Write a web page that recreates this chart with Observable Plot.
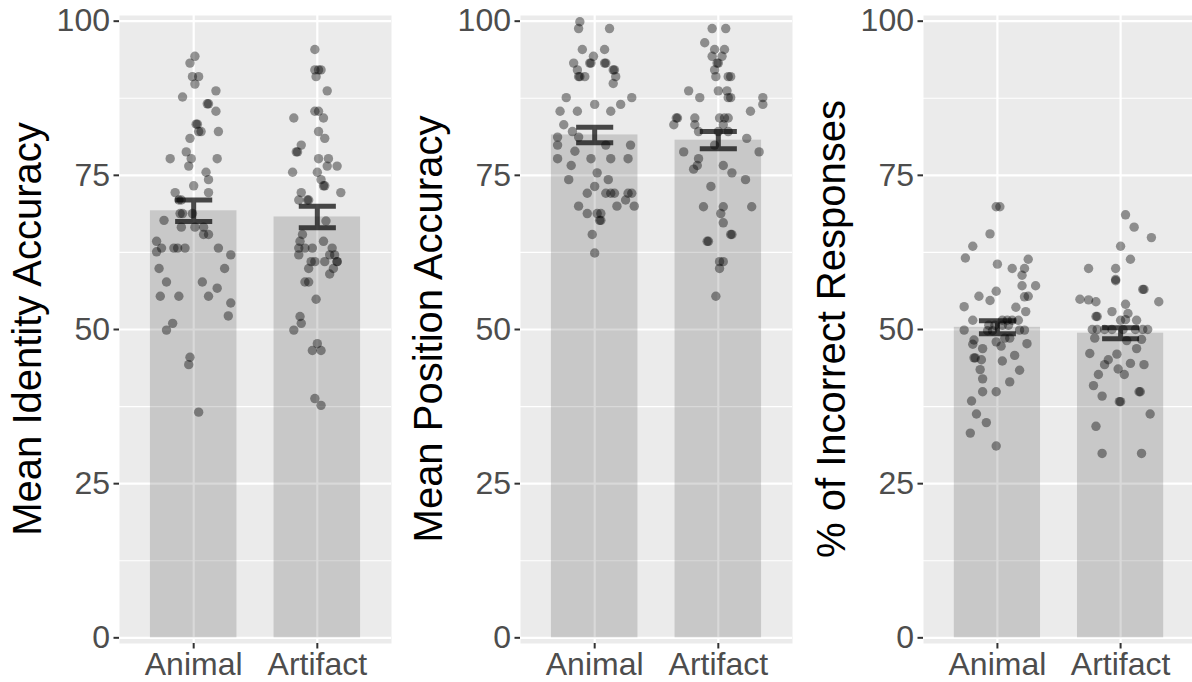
<!DOCTYPE html>
<html><head><meta charset="utf-8">
<script src="https://cdn.jsdelivr.net/npm/d3@7"></script>
<script src="https://cdn.jsdelivr.net/npm/@observablehq/plot@0.6"></script>
<style>
html,body{margin:0;padding:0;background:#fff;}
#chart{position:relative;width:1192px;height:682px;overflow:hidden;}
#chart svg{position:absolute;top:0;}
</style></head><body><div id="chart"></div>
<script>
const categories = ["Animal", "Artifact"];
const yTitles = ["Mean Identity Accuracy", "Mean Position Accuracy", "% of Incorrect Responses"];
const yTicks = [0, 25, 50, 75, 100];
const yMinor = [12.5, 37.5, 62.5, 87.5];

// bar heights (means) and standard errors
const identityMean = [69.25, 68.25];
const identitySE = [1.75, 1.75];
const positionMean = [81.55, 80.7];
const positionSE = [1.25, 1.4];
const incorrectMean = [50.35, 49.4];
const incorrectSE = [1.05, 0.9];

// participant values and horizontal jitter (in category units)
const identityAnimalVals = [94.3,93.2,91.0,91.0,89.8,88.7,87.7,86.6,86.6,85.4,
  83.3,83.3,82.1,82.1,82.1,81.0,78.8,77.7,77.7,77.7,
  76.5,75.5,74.3,73.3,72.2,72.2,71.0,71.0,68.8,68.8,
  68.8,67.7,66.6,66.6,66.6,65.4,65.4,64.3,62.6,63.2,
  63.2,63.2,63.2,63.2,62.1,59.9,59.9,57.7,57.7,56.7,
  55.4,55.4,55.4,54.3,52.2,51.0,49.9,45.5,44.3,36.6];
const identityAnimalJit = [0.01,-0.03,-0.01,0.04,0.01,0.18,-0.09,0.11,0.12,0.18,
  0.02,0.03,0.06,0.04,0.20,-0.03,-0.06,-0.19,-0.02,0.19,
  -0.04,0.10,0.12,0.00,-0.15,0.12,-0.12,-0.10,-0.11,-0.09,
  -0.01,-0.24,-0.10,0.01,0.08,0.08,0.12,-0.30,-0.30,-0.26,
  -0.16,-0.13,-0.07,0.20,0.30,-0.28,0.25,-0.22,0.07,0.19,
  -0.27,-0.12,0.12,0.30,0.28,-0.17,-0.22,-0.03,-0.04,0.04];

const identityArtifactVals = [95.4,92.1,92.1,92.1,91.0,88.7,85.4,85.4,84.3,84.3,
  82.1,81.0,79.9,78.8,78.8,77.7,77.7,76.5,76.5,75.5,
  75.5,74.3,73.3,73.3,72.2,72.2,71.0,71.0,71.0,67.6,
  65.4,64.3,64.3,63.2,63.2,63.2,63.2,62.1,62.1,62.1,
  61.0,61.0,61.0,61.0,61.0,59.9,59.9,59.0,57.7,57.7,
  54.9,52.1,51.0,49.9,47.7,46.6,46.6,38.8,37.7];
const identityArtifactJit = [-0.02,-0.02,0.01,0.03,-0.01,0.08,-0.02,0.01,-0.19,0.05,
  0.01,0.06,-0.13,-0.17,-0.16,0.01,0.09,0.08,0.16,-0.20,
  0.00,0.03,0.05,0.06,-0.13,0.19,-0.15,-0.08,-0.07,0.07,
  -0.12,-0.14,0.05,-0.15,-0.10,-0.04,0.12,-0.15,0.10,0.14,
  -0.05,-0.02,0.06,0.16,0.16,-0.07,0.13,0.10,-0.10,-0.07,
  -0.01,-0.14,-0.13,-0.19,0.00,-0.04,0.03,-0.02,0.03];

const positionAnimalVals = [99.9,98.8,98.8,95.4,95.4,94.3,93.2,93.2,93.2,93.2,
  93.2,92.1,92.1,92.1,91.0,91.0,91.0,91.0,89.9,87.6,
  87.6,86.5,86.5,85.4,85.4,85.4,83.2,82.1,81.2,81.2,
  79.9,79.9,79.9,78.9,77.7,77.7,77.7,77.7,76.6,75.4,
  74.3,74.3,73.2,72.1,72.1,72.1,72.1,72.1,72.1,71.0,
  70.0,70.0,70.0,68.8,68.8,68.8,67.7,67.7,65.4,62.4];
const positionAnimalJit = [-0.12,-0.13,0.12,-0.10,0.08,-0.01,-0.17,-0.04,-0.03,0.08,
  0.09,-0.14,0.15,0.16,-0.13,-0.12,-0.08,0.17,0.15,-0.23,
  0.30,0.00,0.21,-0.28,-0.14,0.13,-0.25,-0.18,-0.30,-0.13,
  -0.30,0.09,0.29,-0.16,-0.30,-0.03,0.13,0.27,-0.19,0.02,
  -0.21,0.11,0.00,-0.06,0.09,0.13,0.16,0.27,0.30,0.25,
  -0.13,0.18,0.32,-0.06,0.02,0.05,0.04,0.05,-0.02,0.00];

const positionArtifactVals = [98.8,98.8,96.5,95.4,95.4,94.3,94.3,93.2,93.2,92.1,
  91.0,91.0,91.0,88.7,88.7,88.7,87.6,87.6,87.6,87.6,
  86.5,85.4,84.3,84.3,84.3,84.3,84.3,84.3,83.2,83.2,
  83.2,82.1,82.1,82.1,81.0,79.9,78.8,78.8,77.7,76.6,
  76.0,76.6,75.4,74.3,73.2,69.9,69.9,69.9,68.8,67.3,
  65.4,65.4,64.3,64.3,61.0,61.0,59.9,55.4];
const positionArtifactJit = [-0.05,0.06,-0.11,-0.03,0.05,-0.05,0.03,-0.01,0.00,-0.03,
  -0.02,0.08,0.10,-0.24,0.00,0.07,-0.15,0.08,0.10,0.36,
  0.36,0.26,-0.34,-0.33,-0.19,0.01,0.05,0.08,-0.36,-0.19,
  0.04,-0.16,0.00,0.08,0.23,-0.03,-0.28,0.33,-0.16,-0.17,
  -0.20,0.04,0.11,0.22,-0.06,-0.12,0.04,0.27,0.02,0.04,
  0.10,0.11,-0.09,-0.08,0.01,0.04,0.01,-0.02];

const incorrectAnimalVals = [69.9,69.9,65.5,63.5,61.6,61.4,60.6,59.9,59.9,58.8,
  57.1,57.1,56.2,55.4,55.3,55.4,54.7,53.7,53.6,52.9,
  51.5,51.5,51.5,51.5,51.5,50.7,50.7,50.7,50.7,49.9,
  49.8,49.8,49.9,49.9,48.3,48.6,48.6,47.6,48.0,47.3,
  47.7,46.9,45.4,45.4,45.1,44.9,45.8,43.5,43.4,42.0,
  41.5,39.9,39.9,38.4,36.3,34.9,33.2,31.1];
const incorrectAnimalJit = [-0.01,0.02,-0.06,-0.20,-0.26,0.25,0.00,0.12,0.22,0.20,
  0.20,0.31,-0.01,-0.15,0.22,0.25,-0.06,-0.27,0.15,0.23,
  -0.20,0.04,0.08,0.12,0.17,-0.07,-0.02,0.04,0.09,-0.27,
  -0.08,-0.04,0.18,0.22,-0.19,0.06,0.10,-0.20,-0.01,0.03,
  0.24,-0.12,-0.19,-0.18,-0.13,0.04,0.14,-0.14,0.18,-0.12,
  0.10,-0.12,-0.01,-0.21,-0.17,-0.09,-0.22,-0.01];

const incorrectArtifactVals = [68.6,66.6,64.9,63.5,61.4,59.9,59.9,58.1,57.9,56.5,
  56.5,54.9,54.8,54.5,54.5,54.1,52.9,52.6,52.1,52.1,
  51.6,51.5,51.5,50.0,50.0,50.0,50.0,50.0,50.0,50.0,
  50.0,48.6,48.2,48.4,46.9,46.1,46.0,45.1,44.3,44.5,
  44.3,43.6,42.7,42.7,40.9,39.9,39.9,39.2,38.3,38.3,
  36.3,34.3,29.9,29.9];
const incorrectArtifactJit = [0.04,0.11,0.25,0.00,0.08,-0.26,-0.04,-0.04,-0.04,0.18,
  0.19,-0.33,-0.26,-0.20,0.31,0.04,-0.07,0.06,-0.20,-0.19,
  0.04,0.13,0.00,-0.23,-0.19,-0.13,-0.07,0.02,0.12,0.18,
  0.22,-0.21,0.05,0.17,0.13,-0.25,-0.03,-0.10,-0.13,0.08,
  0.19,-0.02,0.03,-0.18,-0.22,0.15,0.16,-0.15,-0.01,0.00,
  0.24,-0.20,-0.15,0.17];

const panels = [
  {title: yTitles[0], means: identityMean, se: identitySE,
   vals: [identityAnimalVals, identityArtifactVals], jit: [identityAnimalJit, identityArtifactJit]},
  {title: yTitles[1], means: positionMean, se: positionSE,
   vals: [positionAnimalVals, positionArtifactVals], jit: [positionAnimalJit, positionArtifactJit]},
  {title: yTitles[2], means: incorrectMean, se: incorrectSE,
   vals: [incorrectAnimalVals, incorrectArtifactVals], jit: [incorrectAnimalJit, incorrectArtifactJit]}
];
const layout = [
  {left: 0, ml: 119, w: 392},
  {left: 400, ml: 120, w: 393},
  {left: 800, ml: 123, w: 395}
];

const chart = document.getElementById("chart");
const FONT = "'Liberation Sans', Arial, Helvetica, sans-serif";

panels.forEach((p, k) => {
  const L = layout[k];
  const pts = [];
  p.vals.forEach((arr, ci) => {
    const n = Math.min(arr.length, p.jit[ci].length);
    for (let j = 0; j < n; j++) pts.push({x: ci + 1 + p.jit[ci][j], y: arr[j]});
  });
  const bars = categories.map((c, i) => ({x1: i + 1 - 0.35, x2: i + 1 + 0.35, y0: 0, y: p.means[i]}));
  const eb = [];
  categories.forEach((c, i) => {
    const x = i + 1, hi = p.means[i] + p.se[i], lo = p.means[i] - p.se[i];
    eb.push({g: i, x: x - 0.15, y: hi}, {g: i, x: x + 0.15, y: hi}, {g: i, x: x, y: hi},
            {g: i, x: x, y: lo}, {g: i, x: x - 0.15, y: lo}, {g: i, x: x + 0.15, y: lo});
  });

  const svg = Plot.plot({
    width: L.w,
    height: 682,
    marginLeft: L.ml,
    marginRight: 1,
    marginTop: 15,
    marginBottom: 39,
    style: {fontFamily: FONT, fontSize: "32px", overflow: "visible", background: "transparent"},
    x: {domain: [0.4, 2.6]},
    y: {domain: [-0.92, 100.92]},
    marks: [
      Plot.frame({fill: "#EBEBEB", stroke: "none"}),
      Plot.ruleY(yMinor, {stroke: "white", strokeWidth: 1.1}),
      Plot.ruleY(yTicks, {stroke: "white", strokeWidth: 2.2}),
      Plot.ruleX([1, 2], {stroke: "white", strokeWidth: 2.2}),
      Plot.rectY(bars, {x1: "x1", x2: "x2", y1: "y0", y2: "y", fill: "black", fillOpacity: 0.15}),
      Plot.dot(pts, {x: "x", y: "y", r: 4.7, fill: "black", fillOpacity: 0.4, stroke: "none"}),
      Plot.line(eb, {x: "x", y: "y", z: "g", stroke: "black", strokeOpacity: 0.7, strokeWidth: 5,
                     strokeLinecap: "butt", strokeLinejoin: "miter"}),
      Plot.axisY(yTicks, {tickSize: 5.5, tickPadding: 4, fontSize: 32, label: null,
                          stroke: "#333333", fill: "#4D4D4D", strokeWidth: 2}),
      Plot.axisX([1, 2], {tickFormat: i => categories[i - 1], tickSize: 5.5, tickPadding: 3.5,
                          fontSize: 32, label: null, stroke: "#333333", fill: "#4D4D4D", strokeWidth: 2})
    ]
  });
  svg.style.left = L.left + "px";
  d3.select(svg).append("text")
    .attr("transform", `translate(${L.ml - 78},329) rotate(-90)`)
    .attr("text-anchor", "middle")
    .attr("font-size", 40)
    .attr("font-family", FONT)
    .attr("fill", "black")
    .text(p.title);
  chart.appendChild(svg);
});
</script></body></html>
